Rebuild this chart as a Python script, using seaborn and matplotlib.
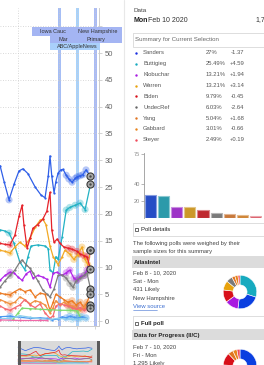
import numpy as np
import pandas as pd
import matplotlib
matplotlib.use("Agg")
import matplotlib.pyplot as plt
import seaborn as sns
from matplotlib.patches import Rectangle
import matplotlib.colors as mcolors

# ---------------- data ----------------
# days are counted from the Iowa caucus (Mon Feb 3 2020)
candidates = ["Sanders", "Buttigieg", "Klobuchar", "Warren", "Biden", "UndecRef", "Yang", "Gabbard", "Steyer"]
summary_pct = [27.0, 25.49, 13.21, 13.21, 9.79, 6.03, 5.04, 3.01, 2.49]
summary_pct_lbl = ["27%", "25.49%", "13.21%", "13.21%", "9.79%", "6.03%", "5.04%", "3.01%", "2.49%"]
summary_change = ["-1.37", "+4.59", "+1.94", "+3.14", "-0.45", "-2.64", "+1.68", "-0.66", "+0.19"]
selection_day = 7.0            # Mon Feb 10 2020
event_days = [0, 4, 8]         # Iowa caucus, ABC/AppleNews debate, New Hampshire primary
y_ticks = list(range(0, 60, 5))
y_tick_labels = [str(t) for t in range(0, 55, 5)] + [""]

sanders_days = [-13.1, -12.2, -11.1, -10.0, -8.9, -8.0, -6.9, -5.3, -4.0, -3.1, -2.4, -2.0, -1.6, -1.1, -0.7, -0.2, 0.4, 0.9, 1.6, 2.2, 2.9, 3.6, 4.0, 4.7, 5.3, 6.0]
sanders_vals = [29.0, 26.0, 22.6, 25.5, 28.0, 28.4, 27.5, 25.0, 23.5, 23.0, 27.0, 30.8, 27.0, 23.9, 26.0, 27.6, 28.2, 28.3, 27.2, 26.5, 25.9, 26.6, 26.9, 27.1, 27.3, 28.2]

buttigieg_days = [-13.1, -12.0, -11.1, -10.0, -8.7, -7.6, -6.9, -6.2, -4.7, -3.1, -2.4, -2.0, -1.3, -0.7, -0.2, 0.7, 1.6, 2.4, 3.6, 4.7, 5.8]
buttigieg_vals = [17.0, 16.8, 16.4, 14.5, 11.0, 9.6, 12.0, 14.0, 14.2, 14.0, 13.5, 9.5, 9.0, 12.0, 11.5, 15.7, 20.7, 21.2, 21.6, 22.0, 20.8]

biden_days = [-13.1, -12.0, -10.9, -9.8, -8.9, -8.2, -7.8, -7.1, -6.4, -5.8, -4.7, -3.6, -2.7, -2.0, -1.6, -1.1, -0.4, 0.2, 1.1, 2.0, 2.9, 4.0, 4.7, 5.6, 6.2]
biden_vals = [14.5, 14.3, 14.2, 16.0, 19.5, 21.6, 18.0, 13.6, 15.5, 17.3, 18.0, 19.0, 20.5, 24.0, 17.0, 14.7, 15.3, 14.5, 13.8, 13.6, 13.4, 13.0, 12.5, 12.2, 12.0]

warren_days = [-13.1, -12.0, -10.9, -9.8, -8.7, -7.6, -6.4, -5.3, -4.2, -3.6, -2.9, -2.0, -1.3, -0.7, -0.2, 0.7, 1.3, 2.4, 3.3, 4.2, 5.1, 5.8, 6.4]
warren_vals = [13.2, 13.0, 12.7, 13.8, 14.7, 14.0, 15.5, 17.5, 18.8, 19.0, 18.0, 14.0, 12.0, 11.2, 10.5, 12.0, 13.2, 12.5, 11.5, 12.4, 13.8, 11.5, 10.5]

klobuchar_days = [-13.1, -12.0, -10.9, -10.0, -9.1, -8.2, -7.3, -6.4, -5.8, -4.7, -3.6, -2.7, -2.0, -1.3, -0.4, 0.7, 1.6, 2.4, 3.3, 4.0, 4.7, 5.6, 6.2]
klobuchar_vals = [7.6, 8.5, 9.1, 9.0, 8.2, 7.6, 8.8, 9.3, 8.0, 8.5, 8.2, 7.8, 6.3, 8.9, 9.1, 8.5, 9.0, 9.5, 8.0, 7.6, 8.3, 8.5, 9.5]

undec_days = [-13.1, -12.0, -10.9, -9.8, -8.7, -8.2, -7.3, -6.4, -5.8, -4.7, -3.6, -2.7, -2.0, -1.1, -0.2, 0.7, 1.6, 2.4, 3.1, 3.8, 4.7, 5.6, 6.2]
undec_vals = [6.3, 7.5, 8.5, 9.5, 11.0, 11.4, 10.5, 9.8, 9.0, 7.5, 5.8, 5.0, 4.5, 6.0, 8.5, 8.6, 8.0, 7.0, 6.3, 7.5, 8.0, 8.5, 9.0]

minor_days = [-13.1, -12.0, -10.9, -9.8, -8.7, -7.6, -6.4, -5.3, -4.2, -3.1, -2.0, -1.3, -0.7, 0.2, 1.1, 2.0, 2.9, 3.8, 4.7, 5.6, 6.2]
yang_vals = [5.2, 5.0, 4.9, 5.5, 6.0, 5.5, 5.8, 4.5, 5.2, 5.0, 2.0, 3.5, 5.0, 4.5, 4.0, 3.5, 3.8, 3.0, 3.5, 2.5, 3.5]
gabbard_vals = [4.0, 3.6, 3.2, 3.5, 4.5, 4.0, 3.2, 3.8, 3.5, 3.0, 1.5, 2.5, 3.8, 3.0, 3.5, 3.0, 2.8, 2.4, 2.0, 2.6, 3.0]
steyer_vals = [2.8, 2.3, 2.0, 2.5, 3.0, 4.0, 3.0, 2.5, 3.2, 1.5, 0.5, 1.0, 2.8, 3.2, 3.0, 2.8, 2.5, 2.2, 2.5, 2.0, 2.5]

green_days = [-10.2, -9.1, -8.2, -6.4, -4.2, -2.0, 0.2, 2.4, 4.0, 4.7]
green_vals = [0.3, 1.5, 2.4, 2.3, 2.2, 2.1, 2.0, 2.0, 1.9, 0.8]
lblue_days = [-13.1, -10.9, -8.7, -6.4, -4.2, -2.7, -1.6, -0.2, 0.7, 1.6, 2.4, 3.3, 4.2, 5.1, 6.0]
lblue_vals = [0.8, 0.9, 0.7, 0.5, 0.6, 0.5, 0.2, 0.4, 0.8, 0.6, 0.9, 0.7, 0.5, 0.8, 0.6]
cyan_days = [-13.1, -10.9, -8.7, -6.4, -4.2, -2.0, -0.2, 1.3, 2.9, 4.7, 6.0]
cyan_vals = [0.4, 0.5, 1.0, 0.7, 0.4, 0.3, 0.5, 0.4, 0.3, 0.4, 0.5]
pink_days = [-13.1, -8.7, -4.2, -2.7]
pink_vals = [0.2, 0.1, 0.1, 0.1]

# individual polls shown as donuts (clockwise from 12 o'clock)
atlas_names = ["Buttigieg", "Sanders", "Klobuchar", "Biden", "Warren", "UndecRef", "Yang", "Gabbard", "Steyer"]
atlas_vals = [30, 22, 13, 12, 9, 6, 3, 3, 2]
dfp_names = ["Sanders", "Buttigieg", "Warren", "Klobuchar", "Biden", "Yang", "Gabbard", "Steyer"]
dfp_vals = [27, 24, 13, 12, 12, 5, 4, 3]

# ---------------- styling ----------------
line_colors = {
    "Sanders": "#2f5fe8", "Buttigieg": "#22b2c4", "Klobuchar": "#b024e8", "Warren": "#f2a823",
    "Biden": "#e5222a", "UndecRef": "#7d7d7d", "Yang": "#ec7a22", "Gabbard": "#f09040",
    "Steyer": "#f46a72", "Bloomberg": "#7fdc6f", "Bennet": "#4a98f0", "Patrick": "#8ccfee",
    "Other": "#f06aa8",
}
bar_colors = ["#0b3fe0", "#17aabf", "#a81ae0", "#e8a20c", "#d8101a", "#7a7a7a", "#e07522", "#e8841c", "#f04a5a"]

series = {
    "Sanders": (sanders_days, sanders_vals), "Buttigieg": (buttigieg_days, buttigieg_vals),
    "Klobuchar": (klobuchar_days, klobuchar_vals), "Warren": (warren_days, warren_vals),
    "Biden": (biden_days, biden_vals), "UndecRef": (undec_days, undec_vals),
    "Yang": (minor_days, yang_vals), "Gabbard": (minor_days, gabbard_vals),
    "Steyer": (minor_days, steyer_vals), "Bloomberg": (green_days, green_vals),
    "Bennet": (lblue_days, lblue_vals), "Patrick": (cyan_days, cyan_vals),
    "Other": (pink_days, pink_vals),
}

rows = []
for name, (d, v) in series.items():
    dd, vv = list(d), list(v)
    if name in candidates:
        dd.append(selection_day)
        vv.append(summary_pct[candidates.index(name)])
    for a, b in zip(dd, vv):
        rows.append((name, a, b))
df = pd.DataFrame(rows, columns=["cand", "day", "pct"])

sns.set_theme(style="white")
plt.rcParams["font.family"] = ["Liberation Sans", "DejaVu Sans"]

W, H = 264, 365
fig = plt.figure(figsize=(W / 100, H / 100), dpi=100)
fig.patch.set_facecolor("white")


def fax(x0, y0, x1, y1):
    return fig.add_axes([x0 / W, 1 - y1 / H, (x1 - x0) / W, (y1 - y0) / H])


# ---------------- main line chart ----------------
ax = fax(0, 8, 99, 326)
ax.set_facecolor("white")
band_cols = ["#a6bef5", "#a8d2fb", "#aabbf5"]
for d, c in zip(event_days, band_cols):
    ax.axvspan(d - 0.3, d + 0.37, color=c, lw=0, zorder=0.5)

order = list(series.keys())
sns.lineplot(data=df, x="day", y="pct", hue="cand", hue_order=order, palette=line_colors,
             estimator=None, sort=True, lw=0.9, marker="o", markersize=1.6, markeredgewidth=0,
             legend=False, ax=ax, zorder=3)

mask = (((df.day + 10.95).abs() < 0.3) | ((df.day > 1.5) & (df.day < 6.5)))
sns.scatterplot(data=df[mask], x="day", y="pct", hue="cand", hue_order=order, palette=line_colors,
                s=26, alpha=0.35, linewidth=0, legend=False, ax=ax, zorder=2)

dfe = df[df.day == selection_day]
sns.scatterplot(data=dfe, x="day", y="pct", color="#a9a9a9", edgecolor="#3a3a3a", linewidth=0.8,
                s=26, legend=False, ax=ax, zorder=6)
sns.scatterplot(data=dfe, x="day", y="pct", color="#4a4a4a", linewidth=0, s=3,
                legend=False, ax=ax, zorder=7)

ax.set_xlim(-13.11, 8.89)
ax.set_ylim(-0.93, 58.4)
ax.set_yticks(y_ticks)
ax.set_yticklabels(y_tick_labels)
ax.set_xticks([-9.1, 0, 4, 8])
ax.set_xticklabels([])
ax.grid(True, axis="both", ls=(0, (1, 2)), color="#cccccc", lw=0.6, zorder=0)
ax.yaxis.tick_right()
ax.tick_params(axis="y", right=True, left=False, labelright=True, labelleft=False, length=2.5,
               color="#cccccc", width=0.6, pad=1.5, labelsize=5.5, labelcolor="#666666")
ax.tick_params(axis="x", bottom=True, length=2, color="#cccccc", width=0.6)
ax.set_xlabel("")
ax.set_ylabel("")
for s in ["top", "left"]:
    ax.spines[s].set_visible(False)
for s in ["right", "bottom"]:
    ax.spines[s].set_color("#cccccc")
    ax.spines[s].set_linewidth(0.7)

# ---------------- navigator ----------------
nav = fax(0, 341, 99, 365)
nav.axvspan(-13.11, 8.89, color="#dadada", lw=0)
sns.lineplot(data=df, x="day", y="pct", hue="cand", hue_order=order, palette=line_colors,
             estimator=None, lw=0.5, legend=False, ax=nav)
nav.set_xlim(-18.0, 8.9)
nav.set_ylim(-3, 40)
nav.axis("off")

# ---------------- bar chart ----------------
bx = fax(144, 153, 262, 218)
sns.barplot(x=candidates, y=summary_pct, hue=candidates, palette=bar_colors, legend=False,
            width=0.85, ax=bx, linewidth=0.8)
for p in bx.patches:
    fc = np.array(mcolors.to_rgb(p.get_facecolor()))
    p.set_edgecolor(tuple(fc + (1 - fc) * 0.45))
bx.set_ylim(0, 76)
bx.set_xlim(-0.5, 8.5)
bx.set_yticks([20, 40, 75])
bx.set_xticks([])
bx.tick_params(axis="y", left=True, length=2, width=0.5, color="#999999", pad=1,
               labelsize=4, labelcolor="#888888")
for s in ["top", "right", "bottom"]:
    bx.spines[s].set_visible(False)
bx.spines["left"].set_color("#999999")
bx.spines["left"].set_linewidth(0.6)
bx.set_facecolor("none")

# ---------------- donuts ----------------
cmap = dict(zip(candidates, bar_colors))
for (cx, cy), names, vals in [((240, 292), atlas_names, atlas_vals), ((240, 366), dfp_names, dfp_vals)]:
    dx = fax(cx - 21, cy - 21, cx + 21, cy + 21)
    dx.pie(vals, colors=[cmap[n] for n in names], startangle=90, counterclock=False,
           wedgeprops=dict(width=0.58, edgecolor="white", linewidth=0.4))
    dx.set_aspect("equal")
    dx.axis("off")

# ---------------- overlay (pixel coords) ----------------
ov = fig.add_axes([0, 0, 1, 1])
ov.set_xlim(0, W)
ov.set_ylim(H, 0)
ov.axis("off")
ov.patch.set_alpha(0)

# right panel border
ov.plot([124, 124], [0, H], color="#e8e8e8", lw=0.8)

# event label boxes
ov.add_patch(Rectangle((50, 36), 50, 14, color="#a9d0fb", lw=0))
ov.add_patch(Rectangle((32, 27), 41, 9, color="#a4b5f3", lw=0))
ov.add_patch(Rectangle((73, 27), 49, 16, color="#a4b5f3", lw=0))
ov.add_patch(Rectangle((50, 36), 23, 7, color="#a4b5f3", lw=0))
lab = dict(fontsize=4, color="#333333", ha="center", va="center")
ov.text(52.5, 31.5, "Iowa Cauc", **lab)
ov.text(97.5, 31.5, "New Hampshire", **lab)
ov.text(95.5, 39.3, "Primary", **lab)
ov.text(63, 39.3, "Mar", **lab)
ov.text(77, 46.3, "ABC/AppleNews", **lab)

# navigator handles
ov.add_patch(Rectangle((18, 341), 3, 24, color="#5a5a5a", lw=0))
ov.add_patch(Rectangle((96.5, 341), 3, 24, color="#5a5a5a", lw=0))

# header
ov.text(133, 10, "Data", fontsize=4.5, color="#444444", va="center")
ov.text(133, 20, "Mon", fontsize=5, color="#222222", va="center", fontweight="bold")
ov.text(148, 20, "Feb 10 2020", fontsize=5, color="#333333", va="center")
ov.text(255, 20, "1,72", fontsize=5, color="#333333", va="center")

ov.add_patch(Rectangle((133, 33), 140, 14, fill=False, ec="#d8d8d8", lw=0.6))
ov.text(135, 40, "Summary for Current Selection", fontsize=4.4, color="#666666", va="center")

row_dot = ["#1a2fe0", "#17aabf", "#a81ae0", "#e8a20c", "#d8101a", "#666666", "#e07522", "#e8841c", "#f04a5a"]
for i, name in enumerate(candidates):
    y = 53 + i * 10.85
    ov.scatter([135.5], [y], s=3, color=row_dot[i], lw=0)
    ov.text(143, y, name, fontsize=4.2, color="#555555", va="center")
    ov.text(206, y, summary_pct_lbl[i], fontsize=4.2, color="#555555", va="center")
    ov.text(244.5, y, summary_change[i], fontsize=4.2, color="#555555", va="center", ha="right")

# poll details
ov.add_patch(Rectangle((133, 223), 140, 13, fill=False, ec="#d8d8d8", lw=0.6))
ov.add_patch(Rectangle((134.5, 227.5), 3, 3, fill=False, ec="#333333", lw=0.5))
ov.text(141, 229.5, "Poll details", fontsize=4.3, color="#222222", va="center")
ov.text(133, 243, "The following polls were weighed by their", fontsize=4.2, color="#444444", va="center")
ov.text(133, 251, "sample sizes for this summary", fontsize=4.2, color="#444444", va="center")

ov.add_patch(Rectangle((132, 256), 140, 12, color="#dcdcdc", lw=0))
ov.text(134, 262, "AtlasIntel", fontsize=4.3, color="#222222", va="center", fontweight="bold")
for j, t in enumerate(["Feb 8 - 10, 2020", "Sat - Mon", "431 Likely", "New Hampshire"]):
    ov.text(133, 273 + j * 8.5, t, fontsize=4.2, color="#444444", va="center")
ov.text(133, 307, "View source", fontsize=4.2, color="#3d6fd1", va="center")
ov.plot([133, 157], [309.5, 309.5], color="#3d6fd1", lw=0.4)

ov.add_patch(Rectangle((133, 316), 140, 13, fill=False, ec="#d8d8d8", lw=0.6))
ov.add_patch(Rectangle((134.5, 321.5), 3, 3, fill=False, ec="#333333", lw=0.5))
ov.text(141, 323, "Full poll", fontsize=4.3, color="#222222", va="center", fontweight="bold")

ov.add_patch(Rectangle((132, 329.5), 140, 10.5, color="#dcdcdc", lw=0))
ov.text(134, 335, "Data for Progress (II/C)", fontsize=4.3, color="#222222", va="center", fontweight="bold")
for j, t in enumerate(["Feb 7 - 10, 2020", "Fri - Mon", "1,295 Likely"]):
    ov.text(133, 347 + j * 8.3, t, fontsize=4.2, color="#444444", va="center")

fig.savefig("out.png", dpi=100, facecolor="white")
